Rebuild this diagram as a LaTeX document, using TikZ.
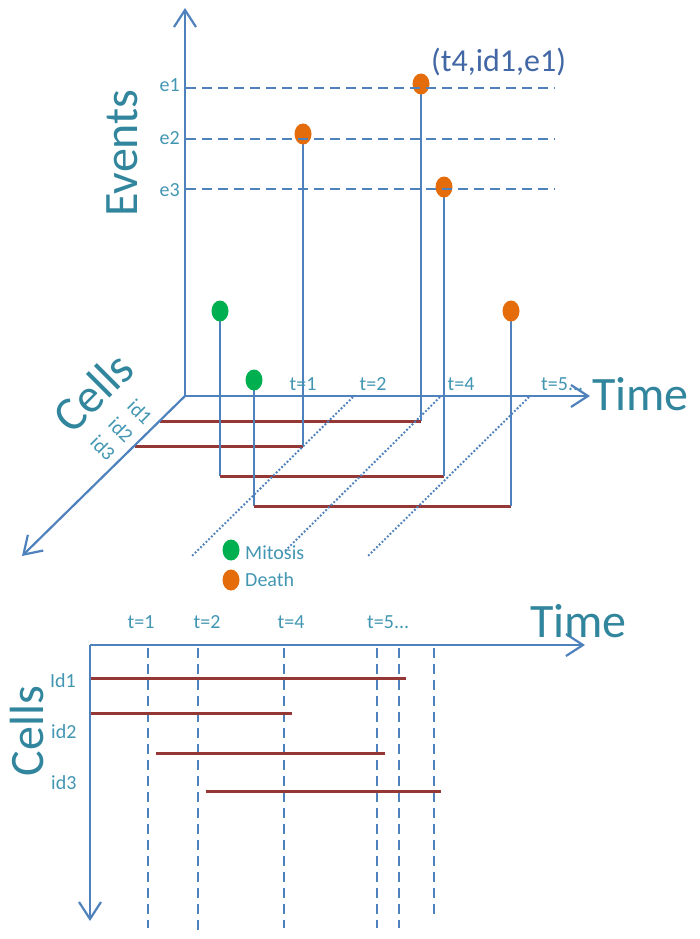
\documentclass[tikz,border=0pt]{standalone}
\usepackage{fontspec}
\setmainfont{Carlito}
\usetikzlibrary{arrows.meta,shapes.geometric}
\pgfdeclarelayer{background}
\pgfsetlayers{background,main}
\definecolor{axblue}{RGB}{79,129,189}
\definecolor{cellred}{RGB}{149,55,53}
\definecolor{bigteal}{RGB}{49,133,156}
\definecolor{smteal}{RGB}{66,150,178}
\definecolor{tupleblue}{RGB}{66,103,165}
\definecolor{deathor}{RGB}{228,108,10}
\definecolor{mitgreen}{RGB}{0,176,80}
\begin{document}
\begin{tikzpicture}[x=1pt,y=-1pt,
  axisline/.style={draw=axblue,line width=2.2pt,
    -{Straight Barb[length=17pt,width=22pt,line width=2.2pt]}},
  evline/.style={draw=axblue,line width=2pt,dash pattern=on 10pt off 6pt},
  tdash/.style={draw=axblue,line width=2pt,dash pattern=on 10pt off 6pt},
  dotline/.style={draw=axblue,line width=2pt,dash pattern=on 1.8pt off 2pt},
  stem/.style={draw=axblue,line width=2pt},
  life/.style={draw=cellred,line width=3pt},
  evdot/.style={ellipse,minimum width=17pt,minimum height=21pt,inner sep=0pt,draw=none},
  smalltxt/.style={text=smteal,font=\fontsize{20}{24}\selectfont,inner sep=0pt},
  bigtxt/.style={text=bigteal,font=\fontsize{48}{56}\selectfont,inner sep=0pt},
  tupletxt/.style={text=tupleblue,font=\fontsize{32}{38}\selectfont,inner sep=0pt}]
\useasboundingbox (0,0) rectangle (699,939);

% ================= top: 3D view =================
\coordinate (O) at (185,396);
\coordinate (Etip) at (185,8);
\coordinate (Ttip) at (590,396);
\coordinate (Ctip) at (22,556);

% dotted time lines in the cell plane
\coordinate (p1a) at (353,397); \coordinate (p1b) at (192,556);
\coordinate (p2a) at (440,397); \coordinate (p2b) at (285,551);
\coordinate (p3a) at (529,397); \coordinate (p3b) at (368,556);
\draw[dotline] (p1a) -- (p1b);
\draw[dotline] (p2a) -- (p2b);
\draw[dotline] (p3a) -- (p3b);

% event dots
\node[evdot,fill=deathor] (d1) at (421,84) {};
\node[evdot,fill=deathor] (d2) at (303,134) {};
\node[evdot,fill=deathor] (d3) at (444,187) {};
\node[evdot,fill=mitgreen] (g1) at (220,311) {};
\node[evdot,fill=mitgreen] (g2) at (254,380) {};
\node[evdot,fill=deathor] (d4) at (511,311) {};

% corners of the life lines
\coordinate (k1) at (421,421); \coordinate (k1e) at (160,421);
\coordinate (k2) at (303,446); \coordinate (k2e) at (135,446);
\coordinate (k3a) at (220,476); \coordinate (k3b) at (444,476);
\coordinate (k4a) at (254,506); \coordinate (k4b) at (511,506);

\begin{pgfonlayer}{background}
\draw[stem] (d1.center) -- (k1);
\draw[life] (k1) -- (k1e);
\draw[stem] (d2.center) -- (k2);
\draw[life] (k2) -- (k2e);
\draw[stem] (g1.center) -- (k3a);
\draw[life] (k3a) -- (k3b);
\draw[stem] (k3b) -- (d3.center);
\draw[stem] (g2.center) -- (k4a);
\draw[life] (k4a) -- (k4b);
\draw[stem] (k4b) -- (d4.center);
\end{pgfonlayer}

% dashed event levels
\coordinate (eL1) at (186,88);  \coordinate (eR1) at (555,88);
\coordinate (eL2) at (186,139); \coordinate (eR2) at (555,139);
\coordinate (eL3) at (186,189); \coordinate (eR3) at (555,189);
\draw[evline] (eL1) -- (eR1);
\draw[evline] (eL2) -- (eR2);
\draw[evline] (eL3) -- (eR3);

\node[smalltxt,anchor=base east] (le1) at (180,92) {e1};
\node[smalltxt,anchor=base east] (le2) at (180,144) {e2};
\node[smalltxt,anchor=base east] (le3) at (180,196) {e3};

% time labels
\node[smalltxt,anchor=base] (tt1) at (303,390) {t=1};
\node[smalltxt,anchor=base] (tt2) at (373,390) {t=2};
\node[smalltxt,anchor=base] (tt4) at (461,390) {t=4};
\node[smalltxt,anchor=base west] (tt5) at (541,390) {t=5...};

% axes
\draw[axisline] (O) -- (Etip);
\draw[axisline] (O) -- (Ttip);
\draw[axisline] (O) -- (Ctip);

% cell ids along the oblique axis
\node[smalltxt,rotate=-45] (ci1) at (140,412) {id1};
\node[smalltxt,rotate=-45] (ci2) at (121,430) {id2};
\node[smalltxt,rotate=-45] (ci3) at (103,448) {id3};

% axis titles
\node[bigtxt,rotate=90,anchor=base] (evt) at (137,153) {Events};
\node[bigtxt,anchor=base west] (timeT) at (592,410) {Time};
\node[bigtxt,rotate=45] (cellsT) at (93,392) {Cells};

\node[tupletxt,anchor=base west] (tuple) at (431,72) {(t4,id1,e1)};

% legend
\node[evdot,fill=mitgreen] (lg) at (231,550) {};
\node[smalltxt,anchor=base west] (lgm) at (245,559) {Mitosis};
\node[evdot,fill=deathor] (lo) at (231,580) {};
\node[smalltxt,anchor=base west] (lod) at (245,586) {Death};

% ================= bottom: 2D view =================
\coordinate (BO) at (90,645);
\coordinate (BT) at (585,645);
\coordinate (BC) at (90,921);

\coordinate (vt1) at (148,648); \coordinate (vb1) at (148,928);
\coordinate (vt2) at (198,648); \coordinate (vb2) at (198,930);
\coordinate (vt3) at (284,648); \coordinate (vb3) at (284,928);
\coordinate (vt4) at (377,648); \coordinate (vb4) at (377,928);
\coordinate (vt5) at (399,648); \coordinate (vb5) at (399,928);
\coordinate (vt6) at (434,648); \coordinate (vb6) at (434,920);
\draw[tdash] (vt1) -- (vb1);
\draw[tdash] (vt2) -- (vb2);
\draw[tdash] (vt3) -- (vb3);
\draw[tdash] (vt4) -- (vb4);
\draw[tdash] (vt5) -- (vb5);
\draw[tdash] (vt6) -- (vb6);

\coordinate (r1a) at (90,678);  \coordinate (r1b) at (406,678);
\coordinate (r2a) at (90,713);  \coordinate (r2b) at (292,713);
\coordinate (r3a) at (156,753); \coordinate (r3b) at (385,753);
\coordinate (r4a) at (206,791); \coordinate (r4b) at (441,791);
\draw[life] (r1a) -- (r1b);
\draw[life] (r2a) -- (r2b);
\draw[life] (r3a) -- (r3b);
\draw[life] (r4a) -- (r4b);

\draw[axisline] (BO) -- (BT);
\draw[axisline] (BO) -- (BC);

\node[smalltxt,anchor=base] (bt1) at (141,628) {t=1};
\node[smalltxt,anchor=base] (bt2) at (207,628) {t=2};
\node[smalltxt,anchor=base] (bt4) at (291,628) {t=4};
\node[smalltxt,anchor=base west] (bt5) at (367,628) {t=5...};

\node[smalltxt,anchor=base west] (bi1) at (50,687) {Id1};
\node[smalltxt,anchor=base west] (bi2) at (51,738) {id2};
\node[smalltxt,anchor=base west] (bi3) at (51,789) {id3};

\node[bigtxt,anchor=base west] (timeB) at (530,637) {Time};
\node[bigtxt,rotate=90,anchor=base] (cellsB) at (43,731) {Cells};
\end{tikzpicture}
\end{document}
